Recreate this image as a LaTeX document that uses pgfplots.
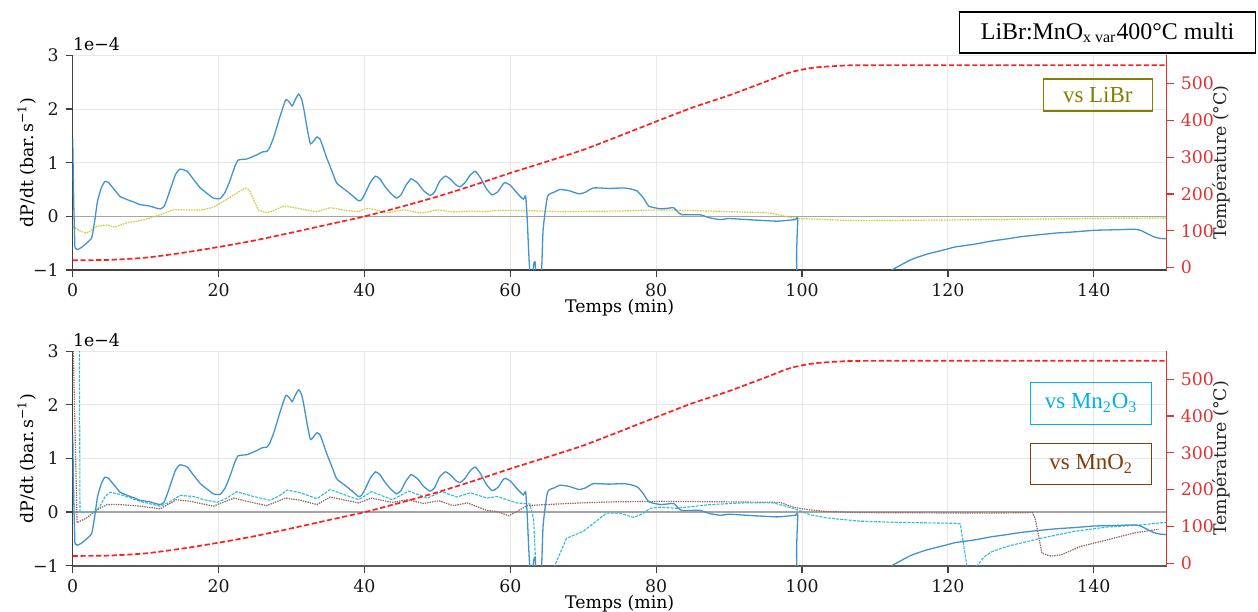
\documentclass[border=0pt]{standalone}
\usepackage{fontspec}
\setmainfont{DejaVu Serif}
\newfontfamily\boxfont{Liberation Serif}
\usepackage{pgfplots}
\pgfplotsset{compat=1.18}
\usepackage{pgfplotstable}

\definecolor{cblue}{RGB}{66,146,208}
\definecolor{cyel}{RGB}{205,205,60}
\definecolor{ccyan}{RGB}{40,190,215}
\definecolor{cbrown}{RGB}{150,100,90}
\definecolor{cred}{RGB}{255,30,30}
\definecolor{ctick}{RGB}{225,50,50}
\definecolor{olivebox}{RGB}{128,128,0}
\definecolor{cyanbox}{RGB}{0,176,240}
\definecolor{brownbox}{RGB}{132,60,12}
\definecolor{gridc}{RGB}{232,232,232}

% dP/dt in units of 1e-4 bar/s (from t = 0.3 min; initial drop drawn separately)
\pgfplotstableread{
t v
0.3 -0.58
0.6 -0.62
1.2 -0.58
1.9 -0.50
2.6 -0.40
3.0 -0.10
3.4 0.28
3.9 0.52
4.4 0.65
4.9 0.63
5.4 0.55
6.0 0.45
6.5 0.37
7.5 0.31
8.5 0.26
9.2 0.22
10.6 0.19
11.3 0.16
12.0 0.14
12.5 0.18
12.9 0.31
13.5 0.55
14.1 0.78
14.7 0.88
15.7 0.84
16.5 0.70
17.5 0.53
18.5 0.42
19.3 0.34
20.2 0.33
20.9 0.45
21.6 0.68
22.2 0.92
22.7 1.05
23.9 1.07
25.3 1.15
26.0 1.20
26.6 1.21
27.0 1.28
27.6 1.49
28.4 1.85
29.2 2.17
29.7 2.13
30.1 2.06
30.6 2.20
31.0 2.28
31.4 2.18
31.7 1.99
32.2 1.60
32.6 1.35
33.0 1.40
33.5 1.48
33.9 1.44
34.2 1.34
34.8 1.10
35.3 0.93
35.8 0.75
36.2 0.62
37.0 0.53
37.6 0.47
38.4 0.38
39.2 0.29
39.6 0.31
40.1 0.43
40.8 0.63
41.5 0.75
42.1 0.70
42.8 0.56
43.6 0.43
44.4 0.34
45.0 0.40
45.7 0.58
46.4 0.70
46.9 0.66
47.3 0.62
48.1 0.48
49.0 0.39
49.6 0.45
50.3 0.65
51.1 0.75
51.9 0.68
52.5 0.59
53.1 0.55
53.8 0.63
54.5 0.77
55.2 0.84
55.9 0.72
56.7 0.52
57.5 0.40
58.3 0.46
59.0 0.60
59.3 0.63
60.0 0.58
60.7 0.47
61.3 0.38
61.8 0.32
62.1 0.38
62.3 0.0
62.6 -0.87
62.9 -1.3
63.2 -0.9
63.4 -0.85
63.6 -1.3
64.2 -1.3
64.5 -0.25
65.1 0.37
66.0 0.45
66.8 0.50
68.0 0.48
69.4 0.42
70.3 0.45
71.4 0.53
73.5 0.52
75.5 0.53
76.5 0.51
77.4 0.47
78.2 0.35
79.0 0.19
80.6 0.14
81.5 0.15
82.4 0.16
83.0 0.08
83.5 0.03
86.0 0.03
87.4 -0.03
88.8 -0.06
89.4 -0.05
90.0 -0.04
92.4 -0.06
96.6 -0.09
99.1 -0.06
99.4 -0.07
99.8 -1.3
111.0 -1.1
112.3 -1.0
114.9 -0.81
117.0 -0.71
119.0 -0.64
119.9 -0.61
121.0 -0.57
123.6 -0.52
126.0 -0.46
128.1 -0.42
130.0 -0.38
132.7 -0.34
135.0 -0.31
137.3 -0.29
140.1 -0.26
143.0 -0.25
145.5 -0.24
146.4 -0.26
147.3 -0.32
148.2 -0.38
149.0 -0.41
150.0 -0.42
}\blue

\pgfplotstableread{
t v
0 -0.19
1.0 -0.27
1.9 -0.31
2.6 -0.25
3.3 -0.19
4.7 -0.16
5.8 -0.20
7.4 -0.12
8.8 -0.09
10.2 -0.05
12.4 0.05
13.8 0.12
15.5 0.12
17.5 0.12
19.0 0.16
20.2 0.24
22.1 0.40
23.7 0.53
24.3 0.47
24.9 0.28
25.5 0.12
26.6 0.07
27.8 0.12
28.9 0.19
30.0 0.17
31.2 0.14
33.5 0.09
35.3 0.16
37.0 0.12
39.0 0.09
40.6 0.15
43.1 0.07
45.4 0.12
47.9 0.06
50.0 0.12
52.2 0.08
54.5 0.10
56.5 0.09
58.2 0.11
61.8 0.11
67.3 0.09
75.0 0.10
80.6 0.12
89.7 0.09
95.6 0.06
98.8 -0.03
103.4 -0.06
108.0 -0.08
125.8 -0.06
140.0 -0.04
150.0 -0.03
}\libr

\pgfplotstableread{
t v
0 4.0
0.9 4.0
1.0 0.0
3.1 0.0
3.75 0.11
4.4 0.28
5.1 0.37
6.5 0.33
7.8 0.27
9.2 0.20
12.0 0.11
13.2 0.18
14.7 0.31
16.6 0.29
18.0 0.23
19.8 0.18
21.0 0.25
22.5 0.38
24.8 0.29
27.1 0.22
28.3 0.30
29.4 0.41
31.2 0.36
33.5 0.25
35.3 0.42
37.1 0.33
39.2 0.23
41.0 0.38
43.8 0.23
46.1 0.39
48.6 0.26
50.6 0.38
52.7 0.28
54.5 0.36
56.8 0.26
58.2 0.29
60.9 0.17
62.7 0.15
63.2 -0.14
63.6 -1.3
65.6 -1.2
66.1 -1.0
67.7 -0.49
70.0 -0.36
71.5 -0.20
73.2 -0.02
75.0 -0.02
76.9 -0.10
78.0 -0.04
79.2 0.07
80.6 0.09
82.8 0.07
87.4 0.14
92.0 0.17
96.1 0.17
98.8 0.07
101.1 -0.05
103.4 -0.11
108.0 -0.17
112.5 -0.19
121.2 -0.21
121.7 -0.22
122.6 -1.0
122.8 -1.2
123.6 -1.2
124.0 -1.0
125.0 -0.83
126.0 -0.74
128.1 -0.64
132.7 -0.49
137.3 -0.36
141.8 -0.28
146.4 -0.24
150.0 -0.19
}\mntwothree

\pgfplotstableread{
t v
0 3.5
0.6 -0.20
1.9 -0.11
3.3 0.04
4.7 0.14
6.5 0.14
9.2 0.11
12.0 0.06
14.2 0.23
16.1 0.20
19.3 0.11
22.1 0.26
23.9 0.20
26.6 0.12
29.2 0.26
31.2 0.22
33.5 0.14
35.3 0.28
37.1 0.23
39.2 0.17
41.0 0.26
43.8 0.18
45.9 0.23
48.1 0.16
50.2 0.21
52.2 0.12
54.1 0.17
56.8 0.03
58.2 0.01
59.8 -0.07
60.9 0.01
62.3 0.12
65.0 0.14
69.6 0.17
74.1 0.19
80.6 0.20
89.7 0.19
97.0 0.18
98.8 0.09
101.1 0.04
103.4 0.01
108.0 -0.01
125.8 -0.02
131.6 -0.01
132.0 -0.14
132.9 -0.77
134.1 -0.82
135.5 -0.80
138.2 -0.64
141.8 -0.52
145.5 -0.39
148.9 -0.32
}\mntwo

\pgfplotstableread{
t T
0 20
5 21
10 27
15 40
20 56
25 74
30 95
35 117
40 139
45 165
50 193
55 224
60 257
65 288
70 320
75 358
80 397
85 435
90 468
95 505
98 528
100 538
102 544
105 548
110 550
150 550
}\temp

\pgfplotsset{
  common/.style={
    scale only axis, width=547bp, height=107.3bp,
    xmin=0, xmax=150,
    tick align=outside, major tick length=3.5bp,
    ticklabel style={font=\fontsize{8.7}{10}\selectfont},
    label style={font=\fontsize{8.7}{10}\selectfont},
    /pgf/number format/assume math mode=true,
    clip mode=individual,
  },
  leftax/.style={common,
    ymin=-1, ymax=3,
    axis x line*=bottom, axis y line*=left,
    xtick={0,20,...,140},
    ytick={-1,0,1,2,3}, yticklabels={−1,0,1,2,3},
    grid=major, major grid style={gridc, line width=0.5bp},
    axis line style={black!75, line width=0.7bp},
    tick style={black!75, line width=0.6bp},
    ticklabel style={text=black!90},
    xlabel={Temps (min)},
    ylabel={dP/dt (bar.\,s\textsuperscript{−1})},
    xlabel style={at={(axis description cs:0.5,-0.178)}, anchor=center},
    ylabel style={at={(axis description cs:-0.0418,0.5)}, anchor=center},
  },
  rightax/.style={common,
    ymin=-6.5, ymax=576.5,
    axis x line=none, axis y line*=right,
    ytick={0,100,...,500},
    axis line style={ctick, line width=0.7bp},
    tick style={ctick, line width=0.6bp},
    yticklabel style={text=ctick},
    ylabel={Température (°C)},
    ylabel style={at={(axis description cs:1.0503,0.5)}, anchor=center, text=black!85},
  },
  dpline/.style={cblue, line width=0.65bp},
  tline/.style={cred, line width=0.85bp, dash pattern=on 2.6bp off 1.3bp, smooth, tension=0.4},
  zline/.style={black!35, line width=0.6bp},
}

\begin{document}
\begin{tikzpicture}
% ---------- top panel ----------
\begin{axis}[leftax, at={(0,147.85bp)}, anchor=south west]
\addplot[zline] coordinates {(0,0) (150,0)};
\addplot[cyel, line width=0.6bp, dash pattern=on 0.8bp off 0.5bp, smooth, tension=0.3] table[x=t,y=v] {\libr};
\addplot[dpline] coordinates {(0,1.45) (0.15,0.2) (0.3,-0.58)};
\addplot[dpline, smooth, tension=0.3] table[x=t,y=v] {\blue};
\node[draw=black, line width=0.8bp, minimum width=148bp, minimum height=20.5bp, inner sep=0pt,
  font=\boxfont\fontsize{12}{13}\selectfont] at (rel axis cs:0.946,1.106) {LiBr:MnO\textsubscript{x var}400°C multi};
\node[draw=olivebox, text=olivebox, line width=0.75bp, minimum width=54.5bp, minimum height=16bp, inner sep=0pt,
  font=\boxfont\fontsize{11.5}{12}\selectfont] at (rel axis cs:0.937,0.815) {vs LiBr};
\node[anchor=south west, inner sep=0pt, font=\fontsize{8.7}{10}\selectfont] at (rel axis cs:0,1.02) {1e−4};
\end{axis}
\begin{axis}[rightax, at={(0,147.85bp)}, anchor=south west]
\addplot[tline] table[x=t,y=T] {\temp};
\end{axis}
% ---------- bottom panel ----------
\begin{axis}[leftax, at={(0,0)}, anchor=south west, x axis line style={black!65, line width=1.1bp}]
\addplot[zline] coordinates {(0,0) (150,0)};
\addplot[cbrown, line width=0.6bp, dash pattern=on 0.7bp off 0.5bp] table[x=t,y=v] {\mntwo};
\addplot[ccyan, line width=0.55bp, dash pattern=on 1.5bp off 0.6bp] table[x=t,y=v] {\mntwothree};
\addplot[dpline] coordinates {(0,1.45) (0.15,0.2) (0.3,-0.58)};
\addplot[dpline, smooth, tension=0.3] table[x=t,y=v] {\blue};
\node[draw=cyanbox, text=cyanbox, line width=0.75bp, minimum width=60.5bp, minimum height=21bp, inner sep=0pt,
  font=\boxfont\fontsize{11.5}{12}\selectfont] at (rel axis cs:0.931,0.757) {vs Mn\textsubscript{2}O\textsubscript{3}};
\node[draw=brownbox, text=brownbox, line width=0.75bp, minimum width=60.5bp, minimum height=20.5bp, inner sep=0pt,
  font=\boxfont\fontsize{11.5}{12}\selectfont] at (rel axis cs:0.931,0.474) {vs MnO\textsubscript{2}};
\node[anchor=south west, inner sep=0pt, font=\fontsize{8.7}{10}\selectfont] at (rel axis cs:0,1.02) {1e−4};
\end{axis}
\begin{axis}[rightax, at={(0,0)}, anchor=south west]
\addplot[tline] table[x=t,y=T] {\temp};
\end{axis}
\pgfresetboundingbox
\useasboundingbox (-36.35bp,-23.15bp) rectangle (592.65bp,282.85bp);
\end{tikzpicture}
\end{document}
